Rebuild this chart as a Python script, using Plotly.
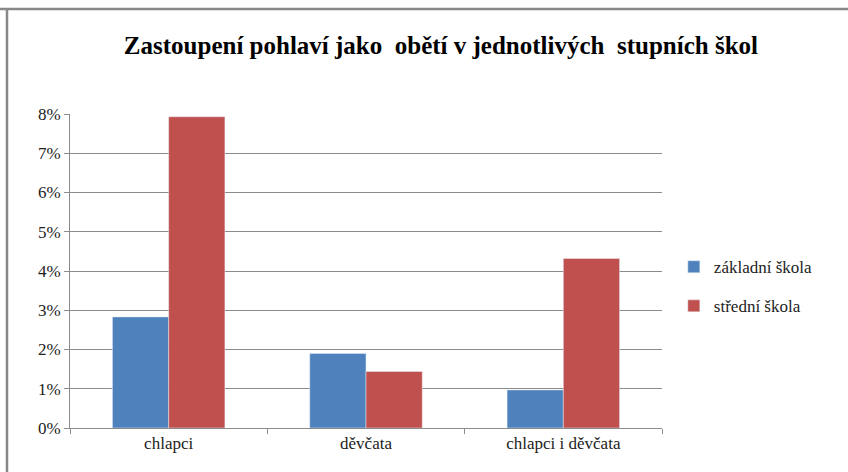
import plotly.graph_objects as go

categories = ["chlapci", "děvčata", "chlapci i děvčata"]
zakladni = [2.83, 1.90, 0.97]
stredni = [7.93, 1.44, 4.32]
series_names = ["základní škola", "střední škola"]
tick_vals = [0, 1, 2, 3, 4, 5, 6, 7, 8]
tick_text = [f"{v}%" for v in tick_vals]
title_text = "Zastoupení pohlaví jako&nbsp; obětí v jednotlivých&nbsp; stupních škol"

W, H = 848, 472
L, R, T, B = 70, 186, 114, 44
serif = "'Liberation Serif', 'Times New Roman', 'DejaVu Serif', serif"


def sfont(size, color="#222"):
    return dict(family=serif, size=size, color=color)


fig = go.Figure()
fig.add_trace(go.Bar(x=categories, y=zakladni, name=series_names[0],
                     marker=dict(color="#4F81BD"), legendgroup="a"))
fig.add_trace(go.Bar(x=categories, y=stredni, name=series_names[1],
                     marker=dict(color="#C0504D"), legendgroup="b"))

fig.update_layout(
    width=W, height=H,
    margin=dict(l=L, r=R, t=T, b=B),
    barmode="group", bargap=0.43, bargroupgap=0,
    plot_bgcolor="white", paper_bgcolor="white",
    font=sfont(16),
    title=dict(text=f"<b>{title_text}</b>",
               x=0.52, xanchor="center", y=0.905, yanchor="middle",
               font=sfont(25, "black")),
    legend=dict(x=1.02, xanchor="left", y=0.45, yanchor="middle",
                traceorder="grouped", tracegroupgap=14,
                font=sfont(17), itemwidth=30),
    shapes=[
        dict(type="line", xref="paper", yref="paper",
             x0=-L / (W - L - R), x1=(W - L) / (W - L - R),
             y0=(H - B - 9) / (H - T - B), y1=(H - B - 9) / (H - T - B),
             line=dict(color="#888", width=2.5)),
        dict(type="line", xref="paper", yref="paper",
             x0=-(L - 7) / (W - L - R), x1=-(L - 7) / (W - L - R),
             y0=-B / (H - T - B), y1=(H - B - 9) / (H - T - B),
             line=dict(color="#888", width=2.5)),
    ],
)
fig.update_yaxes(range=[0, 8], tickvals=tick_vals, ticktext=tick_text,
                 showgrid=True, gridcolor="#8c8c8c", gridwidth=1,
                 showline=True, linecolor="#8c8c8c", linewidth=1,
                 ticks="outside", ticklen=5, tickcolor="#8c8c8c",
                 zeroline=False, tickfont=sfont(17))
fig.update_xaxes(showline=True, linecolor="#8c8c8c", linewidth=1,
                 ticks="outside", ticklen=5, tickcolor="#8c8c8c",
                 tickson="boundaries", tickfont=sfont(17))

fig.write_html("out.html", config={"displayModeBar": False},
               post_script="document.body.style.margin='0';")
